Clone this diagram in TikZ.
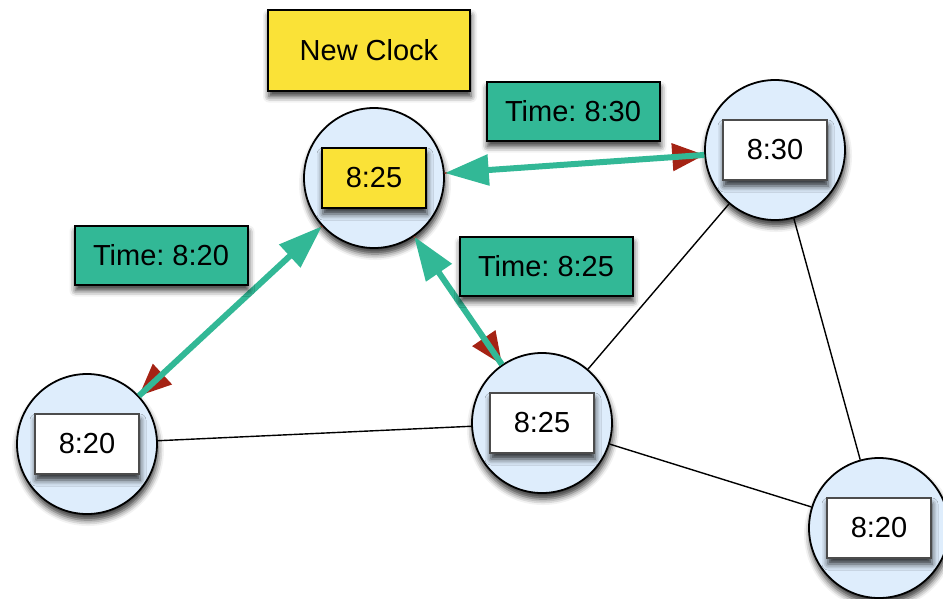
\documentclass[tikz,border=0pt]{standalone}
\usepackage{fontspec}
\setmainfont{Liberation Sans}
\usetikzlibrary{arrows.meta,shadows.blur}

\definecolor{clockblue}{RGB}{222,237,252}
\definecolor{msggreen}{RGB}{50,184,150}
\definecolor{clockyellow}{RGB}{250,226,55}
\definecolor{tipred}{RGB}{165,35,20}

\tikzset{
  softshadow/.style={blur shadow={shadow xshift=1pt, shadow yshift=-6pt,
      shadow blur radius=6pt, shadow opacity=80}},
  clocknode/.style={circle, draw=black, line width=1.8pt, fill=clockblue,
      minimum size=140pt, inner sep=0pt, softshadow},
  displaybox/.style={draw=black!70, line width=2.2pt, fill=white,
      minimum width=104pt, minimum height=60pt, inner sep=0pt,
      font=\fontsize{29}{30}\selectfont\frenchspacing, softshadow},
  newdisplay/.style={displaybox, draw=black, fill=clockyellow},
  msgbox/.style={draw=black, line width=2pt, fill=msggreen,
      minimum width=173pt, minimum height=59pt, inner sep=0pt,
      font=\fontsize{29}{30}\selectfont\frenchspacing, softshadow},
  bannerbox/.style={msgbox, fill=clockyellow, minimum width=202pt,
      minimum height=81pt},
  netlink/.style={draw=black, line width=1.4pt},
  replyarrow/.style={draw=tipred, line width=1.5pt,
      -{Triangle[length=32pt,width=28pt]}},
  sendarrow/.style={draw=msggreen, line width=6pt,
      -{Triangle[length=44pt,width=30pt]}},
}

\begin{document}
\begin{tikzpicture}[x=1pt,y=-1pt]
  \useasboundingbox (0,0) rectangle (943,598);
  \clip (0,0) rectangle (943,598);

  % clocks
  \node[clocknode] (cA) at (374,178) {};
  \node[clocknode] (cB) at (775,150) {};
  \node[clocknode] (cC) at (87,444) {};
  \node[clocknode] (cD) at (542,423) {};
  \node[clocknode] (cE) at (879,528) {};

  % network links
  \draw[netlink] (cC) -- (cD);
  \draw[netlink] (cB) -- (cD);
  \draw[netlink] (cB) -- (cE);
  \draw[netlink] (cD) -- (cE);

  % clock displays
  \node[newdisplay] (tA) at (cA) {8:25};
  \node[displaybox] (tB) at (cB) {8:30};
  \node[displaybox] (tC) at (cC) {8:20};
  \node[displaybox] (tD) at (cD) {8:25};
  \node[displaybox] (tE) at (cE) {8:20};

  % request / reply exchange
  \draw[replyarrow] (cA) -- (cB);
  \draw[replyarrow] (cA) -- (cC);
  \draw[replyarrow] (cA) -- (cD);
  \draw[sendarrow] (cB) -- (cA);
  \draw[sendarrow] (cC) -- (cA);
  \draw[sendarrow] (cD) -- (cA);

  % labels
  \node[bannerbox] (newclk) at (369,50) {New Clock};
  \node[msgbox] (m830) at (573,111) {Time: 8:30};
  \node[msgbox] (m825) at (546,266) {Time: 8:25};
  \node[msgbox] (m820) at (161,255) {Time: 8:20};
\end{tikzpicture}
\end{document}
